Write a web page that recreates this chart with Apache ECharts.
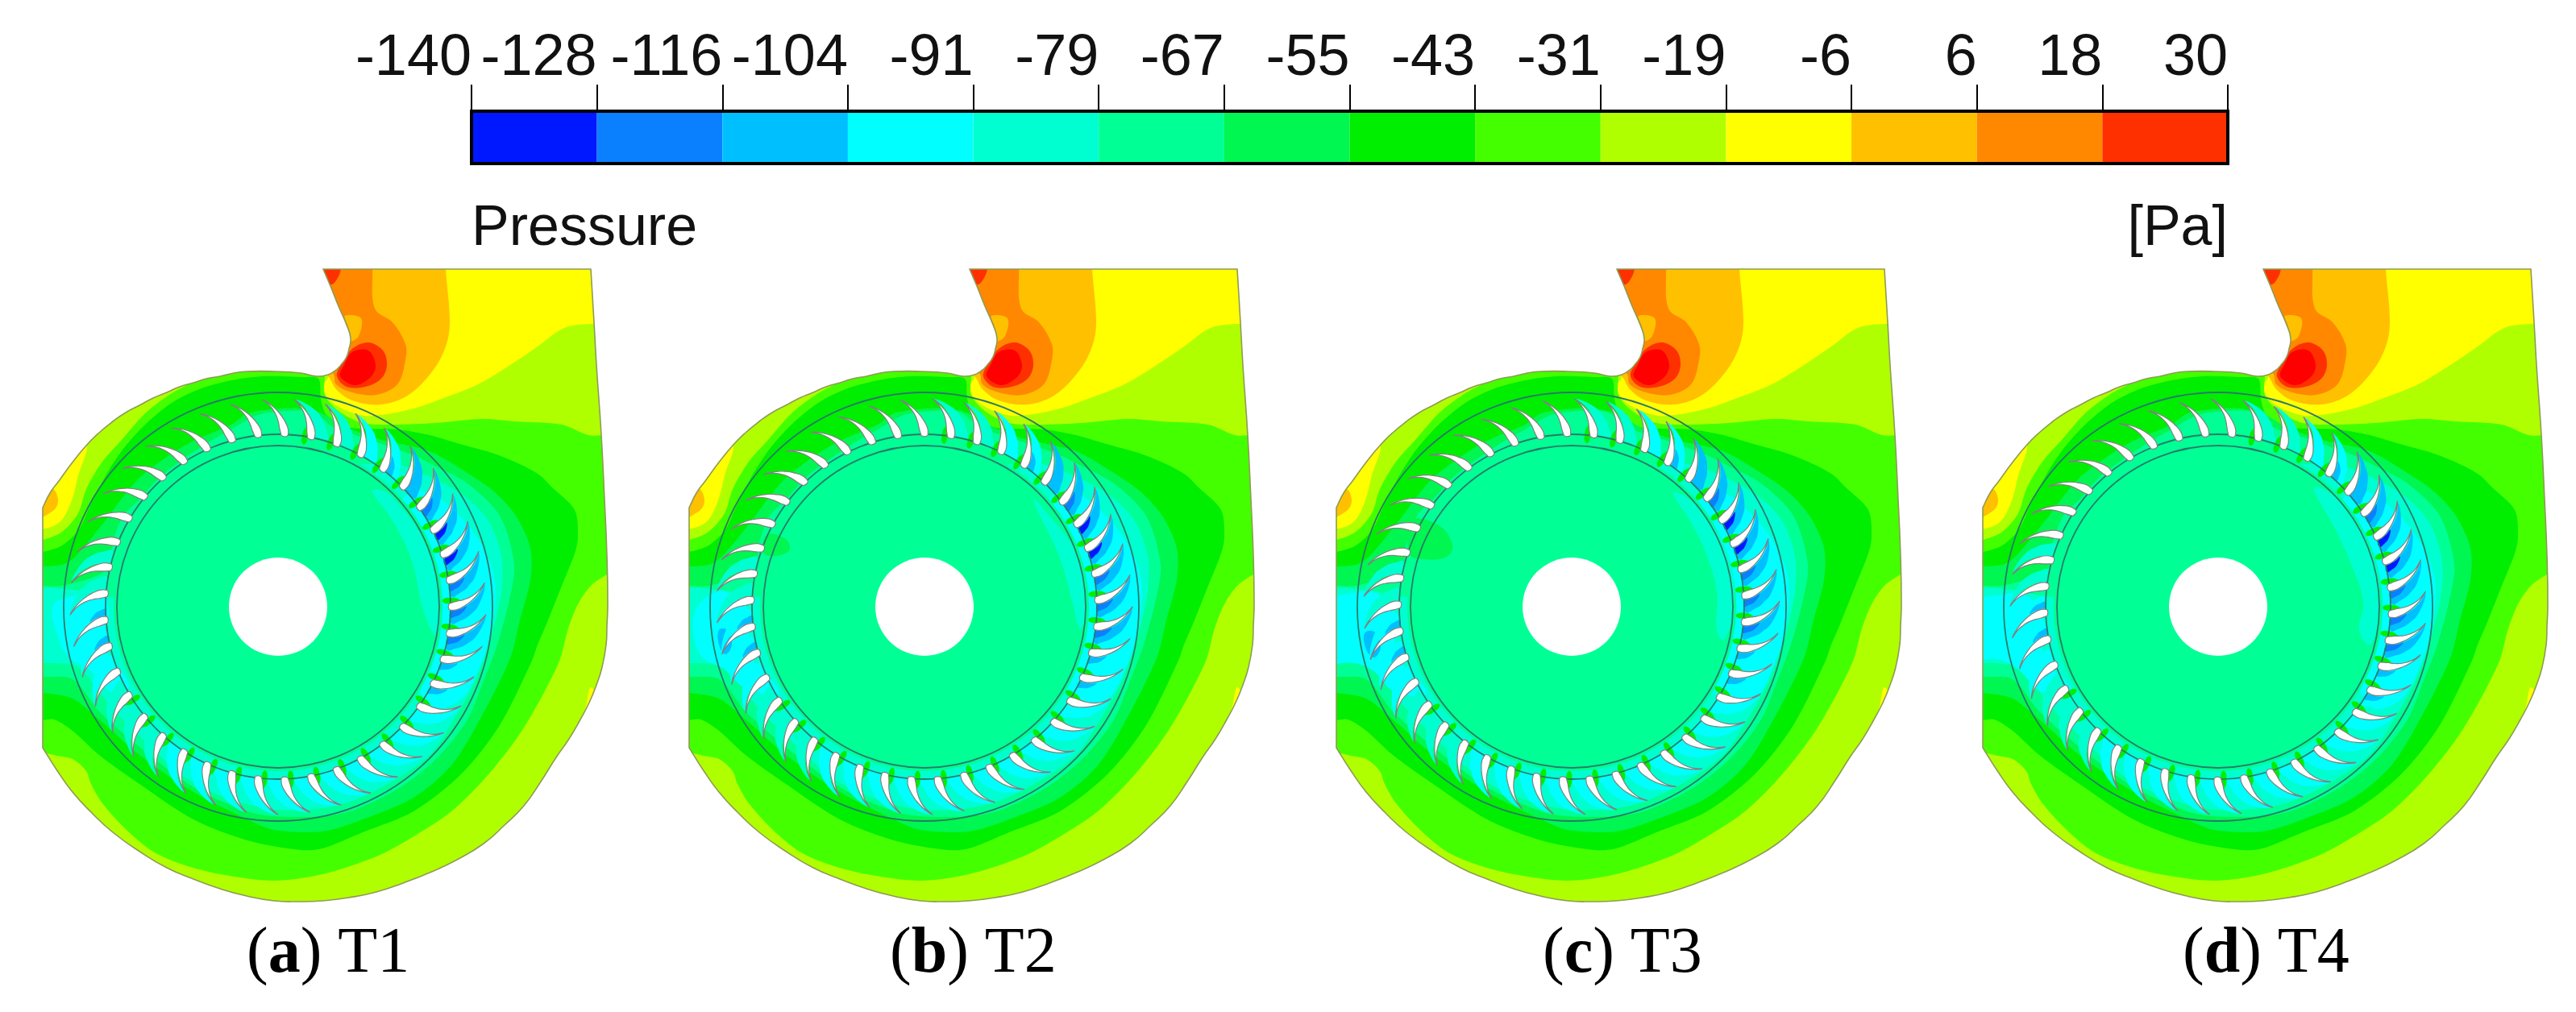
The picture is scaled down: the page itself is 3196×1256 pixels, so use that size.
<!DOCTYPE html>
<html lang="en">
<head>
<meta charset="UTF-8">
<title>Pressure contours T1-T4</title>
<script src="https://cdn.jsdelivr.net/npm/echarts@6/dist/echarts.min.js"></script>
<style>html,body{margin:0;background:#fff}</style>
</head>
<body>
<div id="main" style="width:3196px;height:1256px;"></div>
<script type="text/javascript">
// colour scale
var tickLabels = ['-140','-128','-116','-104','-91','-79','-67','-55','-43','-31','-19','-6','6','18','30'];
var bandColours = ['#0018ff','#0a80ff','#00bfff','#00ffff','#00ffd0','#00ff95','#00f650','#00ee00','#44ff00','#b0ff00','#ffff00','#ffc000','#ff8800','#ff3000'];
var bandIndex = [0,1,2,3,4,5,6,7,8,9,10,11,12,13];
var coreRed = '#ff0000';
var panelNames = ['a','b','c','d'];
var panelCases = ['T1','T2','T3','T4'];

// all shapes are in the frame of panel (a)
// corners are listed twice so the smoothed outline stays sharp there
var voluteOutline = [[401,334],[401,334],[733,334],[733,334],[737,400],[740,453],[746,540],[750,620],[753,690],[754,750],[753,777],[752,800],[747,828],[740,850],[731,872],[720,893],[706,917],[690,940],[671,970],[650,1000],[626,1024],[600,1047],[567,1067],[533,1083],[500,1096],[467,1107],[433,1114],[400,1118],[370,1119],[340,1118],[306,1112],[273,1103],[240,1091],[207,1077],[172,1056],[140,1033],[114,1009],[90,983],[70,955],[53,928],[53,928],[53,630],[53,630],[62,612],[73,597],[89,575],[107,553],[123,537],[140,523],[156,512],[173,503],[190,494],[207,487],[223,480],[240,475],[256,470],[273,467],[290,463],[307,461],[340,461],[373,463],[393,467],[407,465],[416,460],[423,453],[430,443],[433,433],[435,420],[430,403],[420,380],[410,355]];

var contourL1 = [[490,527],[540,525],[597,520],[640,523],[697,527],[730,540],[770,545],[770,705],[753,713],[733,727],[717,750],[705,780],[693,823],[650,903],[607,960],[560,1007],[510,1040],[467,1063],[400,1085],[340,1093],[273,1085],[227,1073],[190,1057],[157,1030],[127,997],[113,973],[107,957],[90,942],[67,937],[40,925],[40,670],[53,670],[77,660],[97,637],[107,607],[127,573],[150,547],[180,513],[210,490],[240,473],[270,450],[340,445],[400,455],[403,490],[420,510],[450,525]];
var contourL2 = [[493,533],[533,540],[567,550],[613,563],[647,577],[670,590],[683,603],[713,633],[717,667],[713,687],[697,727],[677,777],[667,800],[660,820],[620,900],[573,960],[513,1007],[450,1033],[400,1053],[373,1055],[307,1043],[240,1017],[173,973],[123,937],[90,907],[67,893],[40,892],[40,685],[53,685],[77,677],[98,657],[112,627],[133,587],[153,557],[180,527],[213,500],[247,483],[287,472],[327,467],[373,468],[395,470],[398,495],[405,515],[430,530],[460,532]];
var contourL3 = [[533,560],[580,587],[613,610],[640,640],[658,680],[658,720],[645,770],[633,817],[597,890],[560,950],[513,990],[450,1017],[400,1032],[340,1030],[307,1017],[240,983],[173,937],[123,893],[90,867],[53,860],[40,860],[40,703],[53,703],[80,700],[97,687],[133,643],[150,620],[173,593],[207,567],[240,547],[287,527],[307,513],[347,507],[373,507],[400,513],[430,530],[470,545]];
var contourL4 = [[513,565],[543,580],[580,600],[620,640],[638,700],[633,740],[617,800],[600,845],[580,893],[543,940],[497,977],[440,1005],[400,1013],[340,1013],[307,1007],[240,977],[173,927],[123,883],[90,843],[53,840],[40,840],[40,727],[53,727],[78,727],[133,707],[140,673],[153,640],[173,620],[197,593],[227,570],[257,550],[287,533],[320,515],[357,510],[390,512],[413,530],[457,545]];
var contourL5 = [[530,590],[575,615],[605,645],[622,690],[622,735],[608,795],[590,845],[565,890],[535,935],[495,965],[440,993],[400,1003],[340,1005],[280,990],[230,965],[180,920],[140,880],[105,835],[90,825],[53,823],[40,823],[40,735],[90,732],[130,740],[345,753],[345,600],[480,575]];
var contourL6 = [[530,610],[570,640],[600,680],[614,720],[612,770],[598,820],[575,865],[540,880],[520,850],[545,753],[530,680],[500,620]];

var outletYellow = [[770,402],[733,402],[700,407],[667,430],[633,453],[593,477],[553,493],[513,507],[473,515],[447,515],[413,500],[400,480],[407,467],[380,420],[380,320],[770,320]];
var outletGold = [[553,320],[553,334],[558,400],[553,430],[537,460],[507,490],[473,502],[437,497],[417,483],[408,468],[380,440],[380,320]];
var outletOrange = [[462,320],[462,334],[465,383],[487,400],[503,427],[503,447],[493,477],[467,490],[437,487],[417,477],[413,463],[380,440],[380,320]];
var outletGoldSpot = [[428,392],[448,395],[445,417],[435,423],[432,405]];
var tongueRedOrange = [[437,433],[457,425],[475,435],[480,453],[473,470],[453,480],[430,480],[418,467],[423,453]];
var tongueRed = [[437,437],[457,435],[466,453],[460,468],[440,478],[422,467],[427,453]];
var inletRedOrange = [[395,325],[425,325],[423,334],[420,343],[412,353],[400,350]];
var leftYellow = [[40,655],[60,655],[77,645],[90,618],[97,590],[108,553],[95,550],[40,610]];
var leftGold = [[40,645],[67,633],[72,620],[65,607],[40,625]];
var wallYellow = [[733,853],[726,880],[715,905],[695,937],[672,970],[650,1003],[665,1003],[700,960],[745,880]];

// left cyan pocket and hub patches differ by case
var leftCyan = [
  [[66,752],[90,740],[125,735],[135,760],[128,800],[160,850],[140,860],[110,830],[85,815],[72,790]],
  [[60,760],[79,738],[100,735],[128,760],[128,810],[165,860],[123,854],[96,830],[72,818],[60,795]],
  [[40,750],[80,735],[105,738],[128,765],[128,812],[165,860],[125,858],[98,832],[72,822],[40,822]],
  [[40,750],[78,738],[105,738],[128,765],[128,812],[165,860],[125,858],[98,832],[72,818],[40,815]]
];
var leftBlueSpot = [
  [],
  [[90,782],[100,782],[106,800],[98,812],[90,800]],
  [[88,786],[100,784],[108,802],[100,816],[90,806]],
  []
];
var hubPatch = [
  [],
  [[149,664],[174,670],[176,685],[147,688]],
  [[146,646],[180,652],[197,676],[190,691],[161,694],[144,688]],
  []
];
var hubHalo = [
  [[462,609],[485,615],[531,682],[546,754],[541,788],[526,760],[510,693],[485,643]],
  [[480,620],[500,640],[535,690],[546,754],[538,780],[528,745],[512,690]],
  [[471,611],[500,628],[539,688],[546,753],[534,794],[525,783],[525,735],[512,688],[495,652]],
  [[464,605],[496,622],[534,682],[546,747],[534,800],[520,783],[525,747],[510,700],[491,658]]
];

// rotor
var hubCentre = [345,753];
var ringRadii = [200,214,266];
var holeRadius = 61;
var bladeAngles = [0,8.8,17.6,26.3,35.1,43.9,52.7,61.5,70.2,79,87.8,96.6,105.4,114.1,122.9,131.7,140.5,149.3,158,166.8,175.6,184.4,193.2,201.9,210.7,219.5,228.3,237.1,245.8,254.6,263.4,272.2,281,289.8,298.5,307.3,316.1,324.9,333.7,342.4,351.2];
var rotorPhase = [0,-2.2,-3.7,2.4];
var cellBand = [2,2,3,3,3,3,3,3,3,3,3,3,3,3,3,4,4,4,3,3,3,4,4,-1,-1,-1,-1,-1,-1,-1,-1,-1,4,4,3,3,2,2,2,2,2];
var rootBand = [1,1,2,2,-1,-1,-1,-1,-1,-1,-1,-1,-1,-1,-1,-1,-1,-1,-1,2,2,-1,-1,-1,-1,-1,-1,-1,-1,-1,-1,-1,-1,-1,-1,2,2,1,0,0,1];
var wedgeBand = [7,7,7,7,7,7,7,7,7,7,7,7,7,7,7,7,7,7,-1,-1,-1,-1,-1,-1,-1,-1,-1,-1,-1,-1,-1,-1,7,7,7,7,7,7,7,7,7];
// [radius, angle offset] outlines relative to a blade root
var bladeShape = [[212,-0.85],[216,-1.35],[222,-1.75],[230,-2.15],[240,-3.05],[250,-4.6],[258,-6.6],[250,-4.05],[240,-1.75],[230,-0.05],[222,0.95],[216,1.15],[212,0.85]];
var cellShape = [[216,1],[226,0.5],[238,-1],[250,-3.5],[258,-6],[250,-1],[238,2.5],[226,4.5],[216,5.5]];
var rootShape = [[214,1.8],[220,1.2],[228,0.6],[234,-0.2],[228,2],[220,3.2],[214,3.6]];
var wedgeShape = [[205,-1.5],[214,-1],[224,-0.8],[230,-0.8],[224,-2.4],[214,-3],[205,-2.6]];

var panelOffsets = [0,802,1605,2407];
var captionLeft = [306,1104,1914,2708];

function bladePoly(shape, angle) {
    return shape.map(function (p) {
        var a = (angle + p[1]) * Math.PI / 180;
        return [hubCentre[0] + p[0] * Math.cos(a), hubCentre[1] + p[0] * Math.sin(a)];
    });
}

function poly(points, color, smooth, clip) {
    return {kind: 'poly', points: points, color: color, smooth: smooth, clip: clip};
}

function panelLayers(p) {
    var list = [];
    list.push(poly(voluteOutline, bandColours[9], 0.5, false));
    var hot = [
        [outletYellow, bandColours[10]], [outletGold, bandColours[11]], [outletOrange, bandColours[12]],
        [outletGoldSpot, bandColours[11]], [tongueRedOrange, bandColours[13]], [tongueRed, coreRed],
        [inletRedOrange, bandColours[13]], [leftYellow, bandColours[10]], [leftGold, bandColours[11]],
        [wallYellow, bandColours[10]]
    ];
    hot.forEach(function (h) { list.push(poly(h[0], h[1], 0.35, true)); });
    var nested = [[contourL1, 8], [contourL2, 7], [contourL3, 6], [contourL4, 5], [contourL5, 4], [contourL6, 3]];
    nested.forEach(function (n) { list.push(poly(n[0], bandColours[n[1]], 0.3, true)); });
    list.push(poly(leftCyan[p], bandColours[3], 0.4, true));
    if (leftBlueSpot[p].length) list.push(poly(leftBlueSpot[p], bandColours[2], 0.4, true));
    list.push({kind: 'disc', r: ringRadii[0] + 4, color: bandColours[5]});
    if (hubPatch[p].length) list.push(poly(hubPatch[p], bandColours[6], 0.4, true));
    list.push(poly(hubHalo[p], bandColours[4], 0.4, true));
    bladeAngles.forEach(function (a, k) {
        var angle = a + rotorPhase[p];
        if (cellBand[k] >= 0) list.push(poly(bladePoly(cellShape, angle), bandColours[cellBand[k]], 0.5, true));
        if (rootBand[k] >= 0) list.push(poly(bladePoly(rootShape, angle), bandColours[rootBand[k]], 0.5, true));
        if (wedgeBand[k] >= 0) list.push(poly(bladePoly(wedgeShape, angle), bandColours[wedgeBand[k]], 0.5, true));
    });
    ringRadii.forEach(function (r) { list.push({kind: 'ring', r: r}); });
    bladeAngles.forEach(function (a) {
        list.push({kind: 'blade', points: bladePoly(bladeShape, a + rotorPhase[p])});
    });
    list.push({kind: 'disc', r: holeRadius, color: '#ffffff'});
    list.push({kind: 'edge', points: voluteOutline});
    return list;
}

function panelSeries(p) {
    var layers = panelLayers(p);
    return {
        type: 'custom',
        name: panelCases[p],
        xAxisIndex: p + 1,
        yAxisIndex: p + 1,
        clip: false,
        silent: true,
        progressive: 0,
        data: layers.map(function (l, i) { return [i]; }),
        renderItem: function (params, api) {
            var l = layers[api.value(0)];
            var toPx = function (pt) { return api.coord(pt); };
            var c = api.coord(hubCentre);
            if (l.kind == 'poly') {
                var el = {type: 'polygon', shape: {points: l.points.map(toPx), smooth: l.smooth}, style: {fill: l.color}};
                if (l.clip) el.clipPath = {type: 'polygon', shape: {points: voluteOutline.map(toPx), smooth: 0.5}};
                return el;
            }
            if (l.kind == 'disc') {
                return {type: 'circle', shape: {cx: c[0], cy: c[1], r: api.size([l.r, 0])[0]}, style: {fill: l.color}};
            }
            if (l.kind == 'ring') {
                return {type: 'circle', shape: {cx: c[0], cy: c[1], r: api.size([l.r, 0])[0]}, style: {fill: null, stroke: '#2a7a68', lineWidth: 1.8}};
            }
            if (l.kind == 'blade') {
                return {type: 'polygon', shape: {points: l.points.map(toPx), smooth: 0.5}, style: {fill: '#ffffff', stroke: '#808080', lineWidth: 1.2}};
            }
            return {type: 'polygon', shape: {points: l.points.map(toPx), smooth: 0.5}, style: {fill: null, stroke: '#8f9a55', lineWidth: 1.6}};
        }
    };
}

var grids = [{left: 585, top: 138, width: 2179, height: 65}];
var xAxes = [{
    type: 'category', gridIndex: 0, position: 'top', boundaryGap: false, data: tickLabels,
    axisLine: {show: true, onZero: false, lineStyle: {color: '#000', width: 2}},
    axisTick: {show: true, length: 33, alignWithLabel: true, lineStyle: {color: '#000', width: 2}},
    axisLabel: {interval: 0, align: 'right', margin: 29, fontSize: 72, color: '#111', fontFamily: 'Liberation Sans'}
}];
var yAxes = [{type: 'value', gridIndex: 0, min: 0, max: 1, show: false}];
panelOffsets.forEach(function (dx, i) {
    grids.push({left: 40 + dx, top: 320, width: 730, height: 810});
    xAxes.push({type: 'value', gridIndex: i + 1, min: 40, max: 770, show: false});
    yAxes.push({type: 'value', gridIndex: i + 1, min: 320, max: 1130, inverse: true, show: false});
});

var seriesList = [{
    type: 'custom',
    name: 'Pressure',
    xAxisIndex: 0,
    yAxisIndex: 0,
    clip: false,
    silent: true,
    data: bandIndex.map(function (b) { return [b]; }),
    renderItem: function (params, api) {
        var b = api.value(0);
        var from = api.coord([b, 0]);
        var to = api.coord([b + 1, 1]);
        return {type: 'rect', shape: {x: from[0], y: to[1], width: to[0] - from[0], height: from[1] - to[1]}, style: {fill: bandColours[b]}};
    }
}, {
    type: 'custom',
    xAxisIndex: 0,
    yAxisIndex: 0,
    clip: false,
    silent: true,
    data: [[0]],
    z: 5,
    renderItem: function (params, api) {
        var from = api.coord([0, 0]);
        var to = api.coord([tickLabels.length - 1, 1]);
        return {type: 'rect', shape: {x: from[0], y: to[1], width: to[0] - from[0], height: from[1] - to[1]}, style: {fill: null, stroke: '#000', lineWidth: 4}};
    }
}];
panelOffsets.forEach(function (dx, i) { seriesList.push(panelSeries(i)); });

var titles = [
    {text: 'Pressure', left: 585, top: 250, padding: 0, textStyle: {fontFamily: 'Liberation Sans', fontWeight: 'normal', fontSize: 70, color: '#111'}},
    {text: '[Pa]', right: 3196 - 2764, top: 250, padding: 0, textStyle: {fontFamily: 'Liberation Sans', fontWeight: 'normal', fontSize: 70, color: '#111'}}
];
panelNames.forEach(function (n, i) {
    titles.push({
        text: '({b|' + n + '}) ' + panelCases[i],
        left: captionLeft[i],
        top: 1145,
        padding: 0,
        textStyle: {
            fontFamily: 'Liberation Serif', fontWeight: 'normal', fontSize: 80, color: '#000',
            rich: {b: {fontFamily: 'Liberation Serif', fontWeight: 'bold', fontSize: 80, color: '#000'}}
        }
    });
});

var myChart = echarts.init(document.getElementById('main'));
myChart.setOption({
    animation: false,
    backgroundColor: '#ffffff',
    title: titles,
    grid: grids,
    xAxis: xAxes,
    yAxis: yAxes,
    series: seriesList
});
</script>
</body>
</html>
